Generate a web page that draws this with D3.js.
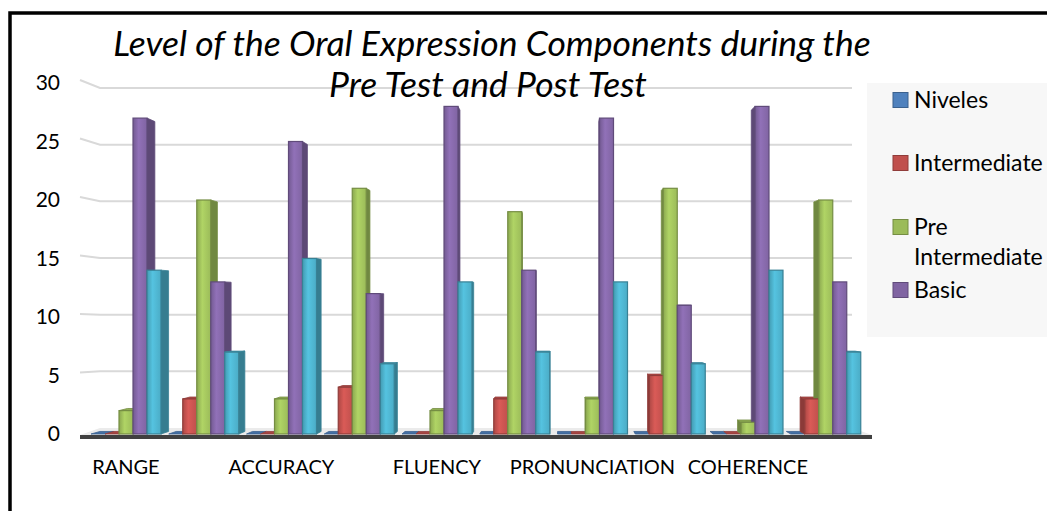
<!DOCTYPE html>
<html>
<head>
<meta charset="utf-8">
<script src="https://cdn.jsdelivr.net/npm/d3@7/dist/d3.min.js"></script>
<style>
  body { margin: 0; background: #fff; }
  svg { display: block; font-family: Lato, 'Open Sans', sans-serif; }
  .tick text { font-size: 21px; fill: #000; }
</style>
</head>
<body>
<script>
// Chart data
const categories = ['RANGE', '', 'ACCURACY', '', 'FLUENCY', '', 'PRONUNCIATION', '', 'COHERENCE', ''];
const seriesNames = ['Niveles', 'Intermediate', 'Pre Intermediate', 'Basic', 'Beginner'];
const niveles = [0, 0, 0, 0, 0, 0, 0, 0, 0, 0];
const intermediate = [0, 3, 0, 4, 0, 3, 0, 5, 0, 3];
const preIntermediate = [2, 20, 3, 21, 2, 19, 3, 21, 1, 20];
const basic = [27, 13, 25, 12, 28, 14, 27, 11, 28, 13];
const beginner = [14, 7, 15, 6, 13, 7, 13, 6, 14, 7];
const yTicks = [0, 5, 10, 15, 20, 25, 30];
const legendNames = ['Niveles', 'Intermediate', 'Pre Intermediate', 'Basic'];

const seriesValues = [niveles, intermediate, preIntermediate, basic, beginner];
const colors = ['#4f81bd', '#c0504d', '#9bbb59', '#8064a2', '#4bacc6'];

// SVG canvas
const width = 1047;
const height = 511;

const svg = d3.select('body')
  .append('svg')
    .attr('width', width)
    .attr('height', height);

// Scales
const y = d3.scaleLinear().domain([0, 30]).range([434, 83]);
const yWall = d3.scaleLinear().domain([0, 30]).range([428, 88]);
const x = d3.scaleBand().domain(d3.range(categories.length)).range([87, 864.5]);
const xInner = d3.scaleBand().domain(seriesNames).range([4, 74]);

// Perspective (bars lean toward a vanishing point)
const vx = 560;
const vy = 300;
const depth = 0.019;
const back = (px, py) => [px + (vx - px) * depth, py + (vy - py) * depth];

// Gradients for the bar fronts
const defs = svg.append('defs');
colors.forEach((c, i) => {
  const g = defs.append('linearGradient')
      .attr('id', 'grad' + i)
      .attr('x1', 0).attr('x2', 1).attr('y1', 0).attr('y2', 0);
  g.append('stop').attr('offset', '0%').attr('stop-color', d3.color(c).darker(0.3));
  g.append('stop').attr('offset', '40%').attr('stop-color', d3.color(c).brighter(0.35));
  g.append('stop').attr('offset', '100%').attr('stop-color', c);
});

// Frame
svg.append('rect')
    .attr('x', 10)
    .attr('y', 13)
    .attr('width', 1200)
    .attr('height', 700)
    .attr('fill', 'none')
    .attr('stroke', '#000')
    .attr('stroke-width', 3.5);

// Gridlines on the back wall
svg.append('g')
  .selectAll('path')
    .data(yTicks.filter((d) => d > 0))
  .enter().append('path')
    .attr('d', (d) => `M80,${y(d) - 3}L100,${yWall(d)}L852,${yWall(d)}`)
    .attr('fill', 'none')
    .attr('stroke', '#d9d9d9')
    .attr('stroke-width', 2);

// Floor
svg.append('path')
    .attr('d', `M80,435L100,${yWall(0)}L852,${yWall(0)}L872,435Z`)
    .attr('fill', '#ebebeb');
svg.append('rect')
    .attr('x', 80)
    .attr('y', 435)
    .attr('width', 792)
    .attr('height', 4)
    .attr('fill', '#404040');

// Y axis labels
const yAxis = svg.append('g')
    .attr('transform', 'translate(62,0)')
    .call(d3.axisLeft(y).tickValues(yTicks).tickSize(0).tickPadding(2));
yAxis.select('.domain').remove();
yAxis.selectAll('text').attr('font-family', 'Lato, sans-serif');

// Title (drawn over the gridlines like the original)
svg.append('text')
    .attr('x', 492)
    .attr('y', 56)
    .attr('text-anchor', 'middle')
    .attr('font-size', 35.5)
    .attr('font-style', 'italic')
    .text('Level of the Oral Expression Components during the');
svg.append('text')
    .attr('x', 488)
    .attr('y', 97)
    .attr('text-anchor', 'middle')
    .attr('font-size', 35.5)
    .attr('font-style', 'italic')
    .text('Pre Test and Post Test');

// Bar data
const bars = [];
seriesValues.forEach((vals, s) => {
  vals.forEach((v, c) => {
    const x0 = x(c) + xInner(seriesNames[s]);
    const x1 = x0 + xInner.bandwidth();
    bars.push({ s, c, v, x0, x1, yT: y(v), yB: y(0) });
  });
});

// Side and top faces first, fronts after
const faces = svg.append('g');
bars.forEach((b) => {
  const col = d3.color(colors[b.s]);
  const edge = col.darker(0.8);
  const bx0T = back(b.x0, b.yT);
  const bx1T = back(b.x1, b.yT);
  const bx0B = back(b.x0, b.yB);
  const bx1B = back(b.x1, b.yB);
  if (b.v > 0) {
    let side;
    if (vx > b.x1) {
      side = [[b.x1, b.yT], bx1T, bx1B, [b.x1, b.yB]];
    } else {
      side = [[b.x0, b.yT], bx0T, bx0B, [b.x0, b.yB]];
    }
    faces.append('path')
        .attr('d', 'M' + side.join('L') + 'Z')
        .attr('fill', col.darker(0.9))
        .attr('stroke', edge)
        .attr('stroke-width', 0.8);
  }
  if (b.yT > vy) {
    const top = [[b.x0, b.yT], [b.x1, b.yT], bx1T, bx0T];
    faces.append('path')
        .attr('d', 'M' + top.join('L') + 'Z')
        .attr('fill', b.v > 0 ? col.darker(0.2) : col.darker(0.4))
        .attr('stroke', edge)
        .attr('stroke-width', 0.8);
  }
});

svg.append('g')
  .selectAll('rect')
    .data(bars.filter((d) => d.v > 0))
  .enter().append('rect')
    .attr('x', (d) => d.x0)
    .attr('y', (d) => d.yT)
    .attr('width', (d) => d.x1 - d.x0)
    .attr('height', (d) => d.yB - d.yT)
    .attr('fill', (d) => `url(#grad${d.s})`)
    .attr('stroke', (d) => d3.color(colors[d.s]).darker(0.8))
    .attr('stroke-width', 1.2);

// X labels
svg.append('g')
  .selectAll('text')
    .data(categories.map((d, i) => ({ label: d, i })).filter((d) => d.label))
  .enter().append('text')
    .attr('x', (d) => x(d.i) + x.bandwidth() / 2)
    .attr('y', 474)
    .attr('text-anchor', 'middle')
    .attr('font-size', 20)
    .text((d) => d.label);

// Legend
svg.append('rect')
    .attr('x', 867)
    .attr('y', 83)
    .attr('width', 200)
    .attr('height', 254)
    .attr('fill', '#f7f7f7');

const legendY = [100, 163, 227, 290];
const legend = svg.append('g')
  .selectAll('g')
    .data(legendNames)
  .enter().append('g')
    .attr('transform', (d, i) => `translate(893,${legendY[i]})`);

legend.append('rect')
    .attr('x', 0)
    .attr('y', -7.5)
    .attr('width', 15)
    .attr('height', 15)
    .attr('fill', (d, i) => colors[i])
    .attr('stroke', (d, i) => d3.color(colors[i]).darker(0.8));

legend.append('text')
    .attr('x', 21)
    .attr('y', 8)
    .attr('font-size', 23)
    .each(function(d) {
      const words = d.split(' ');
      const t = d3.select(this);
      if (words.length > 1) {
        t.append('tspan').attr('x', 21).text(words[0]);
        t.append('tspan').attr('x', 21).attr('dy', 30).text(words.slice(1).join(' '));
      } else {
        t.text(d);
      }
    });
</script>
</body>
</html>
